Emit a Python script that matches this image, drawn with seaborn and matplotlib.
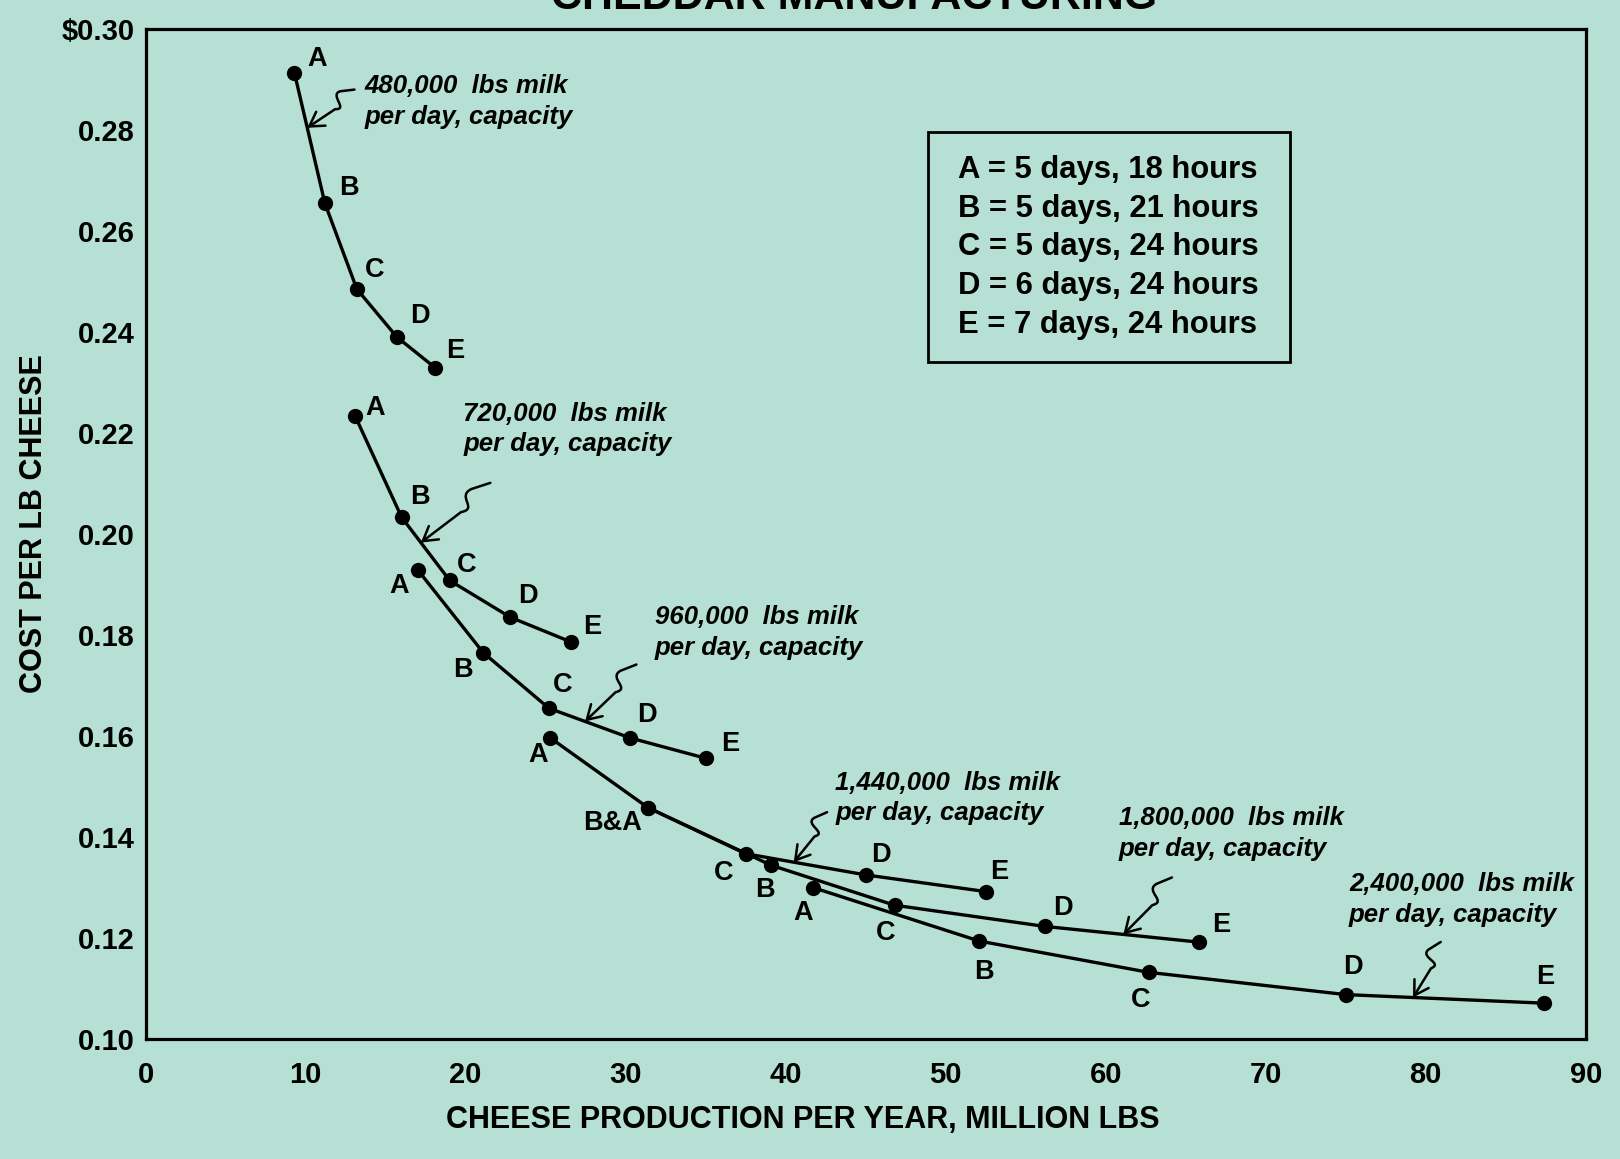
import numpy as np
import pandas as pd
import matplotlib
matplotlib.use("Agg")
import matplotlib.pyplot as plt
import matplotlib.transforms as mtrans
from matplotlib.path import Path
from matplotlib.patches import FancyArrowPatch, Rectangle
import seaborn as sns

# ---------------- data ----------------
capacities = ["480,000", "720,000", "960,000", "1,440,000", "1,800,000", "2,400,000"]
point_names = ["A", "B", "C", "D", "E"]

prod_480 = [9.3, 11.2, 13.2, 15.7, 18.1]
cost_480 = [0.2913, 0.2655, 0.2485, 0.2390, 0.2329]
prod_720 = [13.1, 16.0, 19.0, 22.8, 26.6]
cost_720 = [0.2233, 0.2033, 0.1908, 0.1835, 0.1786]
prod_960 = [17.0, 21.1, 25.2, 30.3, 35.0]
cost_960 = [0.1929, 0.1765, 0.1655, 0.1596, 0.1556]
prod_1440 = [25.3, 31.4, 37.5, 45.0, 52.5]
cost_1440 = [0.1596, 0.1458, 0.1367, 0.1325, 0.1292]
prod_1800 = [31.4, 39.1, 46.8, 56.2, 65.8]
cost_1800 = [0.1458, 0.1344, 0.1265, 0.1223, 0.1192]
prod_2400 = [41.7, 52.1, 62.7, 75.0, 87.4]
cost_2400 = [0.1300, 0.1194, 0.1132, 0.1088, 0.1071]

labels_480 = ["A", "B", "C", "D", "E"]
labels_720 = ["A", "B", "C", "D", "E"]
labels_960 = ["A", "B", "C", "D", "E"]
labels_1440 = ["A", "B&A", "C", "D", "E"]
labels_1800 = ["", "B", "C", "D", "E"]
labels_2400 = ["A", "B", "C", "D", "E"]

legend_lines = ["A = 5 days, 18 hours", "B = 5 days, 21 hours", "C = 5 days, 24 hours",
                "D = 6 days, 24 hours", "E = 7 days, 24 hours"]

x_ticks = [0, 10, 20, 30, 40, 50, 60, 70, 80, 90]
y_ticks = [0.10, 0.12, 0.14, 0.16, 0.18, 0.20, 0.22, 0.24, 0.26, 0.28, 0.30]
y_tick_labels = ["0.10", "0.12", "0.14", "0.16", "0.18", "0.20", "0.22", "0.24", "0.26", "0.28", "$0.30"]

# where each capacity's squiggle arrow touches its curve (x on curve)
arrow_tip_x = [10.1, 17.2, 27.46, 40.5, 61.1, 79.2]
# annotation text anchors (left, middle of two lines)
note_x = [13.69, 19.85, 31.8, 43.1, 60.8, 75.2]
note_y = [0.2857, 0.2208, 0.1805, 0.1477, 0.1407, 0.1276]

# ---------------- style ----------------
BG = "#b5e0d3"
label_offsets = [
    [(16.4, 9.7), (17.1, 11.2), (12.6, 13.4), (16.4, 14.9), (14.1, 11.9)],
    [(14.1, 6.0), (13.4, 14.9), (11.9, 11.2), (12.6, 15.6), (14.9, 11.2)],
    [(-13.4, -11.9), (-14.9, -12.6), (9.7, 16.4), (11.9, 16.4), (17.9, 10.4)],
    [(-8.9, -11.9), (-25.3, -11.2), (-15.6, -14.1), (11.2, 14.1), (9.7, 14.1)],
    [(0, 0), (-4.5, -17.9), (-6.7, -20.1), (12.6, 13.4), (16.4, 12.6)],
    [(-7.4, -18.6), (3.0, -22.3), (-6.0, -20.1), (5.2, 20.1), (0.7, 18.6)],
]
arrow_vecs = [(34, 27.5), (50, 43), (37, 41), (24, 36), (35, 41), (20, 40)]

sns.set_theme(style="white")
plt.rcParams["font.family"] = ["Liberation Sans", "DejaVu Sans"]
plt.rcParams["text.color"] = "black"
plt.rcParams["axes.labelcolor"] = "black"
plt.rcParams["xtick.color"] = "black"
plt.rcParams["ytick.color"] = "black"

prods = [prod_480, prod_720, prod_960, prod_1440, prod_1800, prod_2400]
costs = [cost_480, cost_720, cost_960, cost_1440, cost_1800, cost_2400]
labs = [labels_480, labels_720, labels_960, labels_1440, labels_1800, labels_2400]

rows = []
for cap, px, cy, lb in zip(capacities, prods, costs, labs):
    for x, y, l in zip(px, cy, lb):
        rows.append({"capacity": cap, "production": x, "cost": y, "label": l})
df = pd.DataFrame(rows)

fig = plt.figure(figsize=(16.2, 11.59), dpi=100, facecolor=BG)
ax = fig.add_axes([0.0899, 0.1035, 0.889, 0.8715], facecolor=BG)

sns.lineplot(data=df, x="production", y="cost", units="capacity", estimator=None,
             sort=False, color="black", lw=2.4, marker="o", markersize=11,
             markeredgewidth=0, ax=ax, legend=False)

ax.set_xlim(0, 90)
ax.set_ylim(0.10, 0.30)
ax.set_xticks(x_ticks)
ax.set_xticklabels([str(t) for t in x_ticks])
ax.set_yticks(y_ticks)
ax.set_yticklabels(y_tick_labels)
ax.tick_params(axis="both", direction="in", length=14, width=1.8, color="black",
               labelsize=21, labelcolor="black")
ax.tick_params(axis="x", pad=16)
ax.tick_params(axis="y", pad=8)
for t in ax.get_xticklabels() + ax.get_yticklabels():
    t.set_fontweight("bold")
for s in ax.spines.values():
    s.set_linewidth(2.3)
    s.set_color("black")

ax.set_xlabel("CHEESE PRODUCTION PER YEAR, MILLION LBS", fontsize=22, fontweight="bold")
ax.set_ylabel("COST PER LB CHEESE", fontsize=22, fontweight="bold")
ax.xaxis.set_label_coords(0.456, -0.065)
ax.yaxis.set_label_coords(-0.067, 0.51)

fig.text(0.527, 1 - 9 / 1159, "CHEDDAR MANUFACTURING", ha="center", va="baseline",
         fontsize=31, fontweight="bold")

# point labels
for ci, (px, cy, lb) in enumerate(zip(prods, costs, labs)):
    for pi, (x, y, l) in enumerate(zip(px, cy, lb)):
        if not l:
            continue
        ax.annotate(l, (x, y), xytext=label_offsets[ci][pi], textcoords="offset points",
                    ha="center", va="center", fontsize=19.5, fontweight="bold")

# capacity notes with squiggle arrows
for ci, cap in enumerate(capacities):
    ax.text(note_x[ci], note_y[ci], f"{cap}  lbs milk\nper day, capacity", ha="left",
            va="center", fontsize=18.5, fontweight="bold", style="italic", linespacing=1.35)
    tx = arrow_tip_x[ci]
    ty = float(np.interp(tx, prods[ci], costs[ci]))
    dx, dy = arrow_vecs[ci]
    L = np.hypot(dx, dy)
    u = np.array([dx, dy]) / L
    perp = np.array([-u[1], u[0]])
    w = 5.5
    start = np.array([dx, dy])
    # S-shaped squiggle followed by straight shaft to the tip
    p1 = 0.80 * start + w * perp
    c1 = 0.62 * start + 1.6 * w * perp
    c2 = 0.72 * start - 1.6 * w * perp
    p2 = 0.55 * start - 0.4 * w * perp
    verts = np.array([start, p1, c1, c2, p2, [0, 0]]) / 72.0
    codes = [Path.MOVETO, Path.LINETO, Path.CURVE4, Path.CURVE4, Path.CURVE4, Path.LINETO]
    path = Path(verts, codes)
    trans = fig.dpi_scale_trans + mtrans.ScaledTranslation(tx, ty, ax.transData)
    arr = FancyArrowPatch(path=path, arrowstyle="->,head_length=0.5,head_width=0.3",
                          mutation_scale=20, lw=1.8, color="black", transform=trans,
                          clip_on=False)
    ax.add_artist(arr)

# legend box
ax.add_patch(Rectangle((0.543, 0.670), 0.2515, 0.228, transform=ax.transAxes, fill=False,
                       lw=2.0, ec="black", zorder=3))
for i, line in enumerate(legend_lines):
    ax.text(0.5642, 0.8604 - i * 0.03837, line, transform=ax.transAxes, ha="left",
            va="center", fontsize=22.3, fontweight="bold")

fig.savefig("out.png", dpi=100, facecolor=BG)
